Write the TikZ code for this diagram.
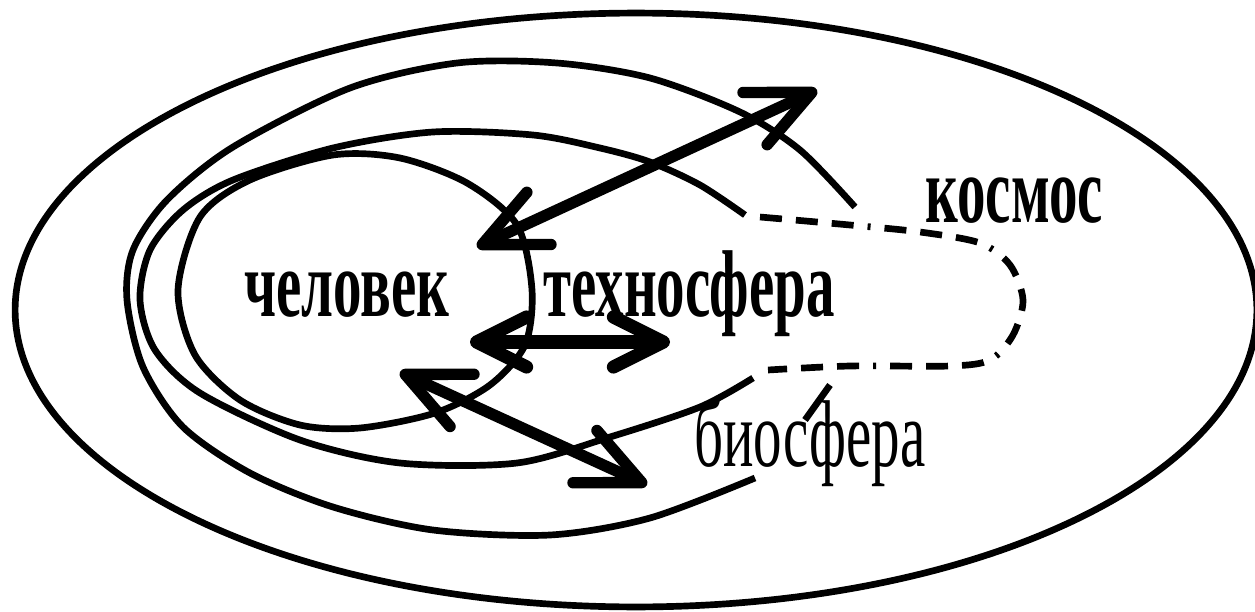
\documentclass[tikz,border=0pt]{standalone}
\usepackage{fontspec}
\setmainfont{Liberation Serif}
\usepackage{graphicx}
\usetikzlibrary{arrows.meta}
\newcommand{\narrowtext}[1]{\scalebox{0.6}[1]{#1}}

\begin{document}
\begin{tikzpicture}[x=0.02cm,y=-0.02cm,line join=round,curve/.style={line width=3.8pt},dashcurve/.style={line width=3.8pt,dash pattern=on 4.4mm off 2.8mm on 4.4mm off 2.8mm on 4.4mm off 2.8mm on 0.6mm off 2.8mm},sphere/.style={anchor=base,inner sep=0pt,font=\fontsize{54}{60}\selectfont\bfseries},thinsphere/.style={anchor=base,inner sep=0pt,font=\fontsize{54}{60}\selectfont},link/.style={{Straight Barb[round,length=1.25cm,width=1.15cm]}-{Straight Barb[round,length=1.25cm,width=1.15cm]},line width=6.5pt},shortlink/.style={{Straight Barb[round,length=1cm,width=1cm]}-{Straight Barb[round,length=1cm,width=1cm]},line width=7.5pt}]
\useasboundingbox (0,0) rectangle (1255,612);
\draw[curve] (636,310) ellipse [x radius=12.42cm, y radius=5.94cm];
\draw[curve] plot[smooth] coordinates {(855,207) (800,150) (740,112) (650,78) (557,63) (457,63) (350,88) (233,147) (167,200) (133,250) (127,300) (143,367) (183,427) (250,473) (333,507) (433,530) (550,535) (650,518) (755,478)};
\draw[curve] plot[smooth] coordinates {(745,215) (700,185) (650,162) (600,148) (533,135) (433,132) (333,148) (233,180) (183,210) (150,250) (140,300) (155,350) (200,393) (300,440) (400,463) (517,463) (610,437) (700,407) (753,378)};
\draw[dashcurve] plot[smooth] coordinates {(760,217) (850,225) (920,232) (980,243) (1010,265) (1023,300) (1013,335) (990,360) (950,366) (850,366) (768,370)};
\draw[curve] plot[smooth cycle] coordinates {(178,290) (200,217) (250,180) (333,155) (400,158) (467,183) (517,225) (532,290) (525,345) (490,385) (435,413) (360,428) (300,425) (240,400) (195,355)};
\draw[curve] (830,385) -- (805,420);
\node[sphere] (chel) at (347,316) {\narrowtext{человек}};
\node[sphere] (tekh) at (689,316) {\narrowtext{техносфера}};
\node[sphere] (kosm) at (1014,222) {\narrowtext{космос}};
\node[thinsphere] (bio) at (810,466) {\narrowtext{биосфера}};
\coordinate (a1) at (477,247);
\coordinate (a2) at (817,90);
\coordinate (b1) at (470,342);
\coordinate (b2) at (670,342);
\coordinate (c1) at (400,372);
\coordinate (c2) at (647,485);
\draw[link] (a1) -- (a2);
\draw[shortlink] (b1) -- (b2);
\draw[link] (c1) -- (c2);
\end{tikzpicture}
\end{document}
